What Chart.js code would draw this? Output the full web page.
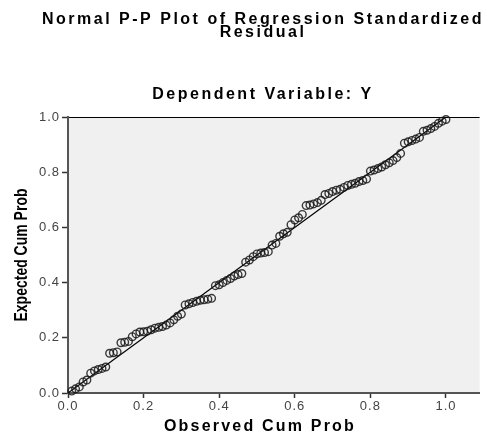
<!DOCTYPE html>
<html lang="en">
<head>
<meta charset="UTF-8">
<title>Normal P-P Plot of Regression Standardized Residual</title>
<script src="https://cdn.jsdelivr.net/npm/chart.js"></script>
<style>
  body { margin: 0; background: #fff; }
  canvas { display: block; }
</style>
</head>
<body>
<canvas id="ppChart" width="485" height="437"></canvas>
<script>
// observed cumulative probability (x) and expected cumulative probability (y)
const observed = [
  0.01, 0.02, 0.03, 0.04, 0.05, 0.06, 0.07, 0.08, 0.09, 0.10,
  0.11, 0.12, 0.13, 0.14, 0.15, 0.16, 0.17, 0.18, 0.19, 0.20,
  0.21, 0.22, 0.23, 0.24, 0.25, 0.26, 0.27, 0.28, 0.29, 0.30,
  0.31, 0.32, 0.33, 0.34, 0.35, 0.36, 0.37, 0.38, 0.39, 0.40,
  0.41, 0.42, 0.43, 0.44, 0.45, 0.46, 0.47, 0.48, 0.49, 0.50,
  0.51, 0.52, 0.53, 0.54, 0.55, 0.56, 0.57, 0.58, 0.59, 0.60,
  0.61, 0.62, 0.63, 0.64, 0.65, 0.66, 0.67, 0.68, 0.69, 0.70,
  0.71, 0.72, 0.73, 0.74, 0.75, 0.76, 0.77, 0.78, 0.79, 0.80,
  0.81, 0.82, 0.83, 0.84, 0.85, 0.86, 0.87, 0.88, 0.89, 0.90,
  0.91, 0.92, 0.93, 0.94, 0.95, 0.96, 0.97, 0.98, 0.99, 1.00
];
const expected = [
  0.007, 0.015, 0.022, 0.040, 0.047, 0.072, 0.080, 0.085, 0.089, 0.094,
  0.144, 0.146, 0.149, 0.182, 0.184, 0.187, 0.204, 0.214, 0.221, 0.222,
  0.224, 0.229, 0.235, 0.238, 0.241, 0.246, 0.254, 0.265, 0.278, 0.286,
  0.319, 0.323, 0.328, 0.332, 0.336, 0.338, 0.340, 0.343, 0.389, 0.392,
  0.400, 0.408, 0.415, 0.424, 0.429, 0.433, 0.474, 0.482, 0.494, 0.504,
  0.507, 0.509, 0.512, 0.536, 0.542, 0.568, 0.577, 0.582, 0.610, 0.627,
  0.635, 0.647, 0.679, 0.681, 0.685, 0.690, 0.698, 0.719, 0.723, 0.730,
  0.735, 0.738, 0.745, 0.752, 0.756, 0.760, 0.766, 0.770, 0.775, 0.804,
  0.808, 0.813, 0.819, 0.827, 0.834, 0.842, 0.853, 0.868, 0.905, 0.910,
  0.915, 0.920, 0.926, 0.948, 0.952, 0.958, 0.966, 0.977, 0.985, 0.991
];
const refLine = [0, 1];
const tickValues = [0, 0.2, 0.4, 0.6, 0.8, 1.0];

const titleLines = ['Normal P-P Plot of Regression Standardized', 'Residual'];
const subTitle = 'Dependent Variable: Y';
const xTitle = 'Observed Cum Prob';
const yTitle = 'Expected Cum Prob';

const points = observed.map((x, i) => ({ x: x, y: expected[i] }));

const frame = {
  id: 'frame',
  beforeDraw(chart) {
    const { ctx, chartArea: a } = chart;
    ctx.save();
    ctx.fillStyle = '#f0f0f0';
    ctx.fillRect(a.left, a.top, a.right - a.left, a.bottom - a.top);
    ctx.strokeStyle = '#000';
    ctx.lineWidth = 1;
    ctx.beginPath();
    ctx.moveTo(a.left, a.top + 0.5);
    ctx.lineTo(a.right, a.top + 0.5);
    ctx.stroke();
    ctx.restore();
    // slightly spaced tick labels like the SPSS output
    ctx.letterSpacing = '1px';
  },
  afterDraw(chart) {
    const ctx = chart.ctx;
    ctx.letterSpacing = '0px';
    ctx.save();
    ctx.fillStyle = '#000';
    ctx.textAlign = 'center';
    ctx.textBaseline = 'middle';
    ctx.font = 'bold 16px Arial';
    ctx.letterSpacing = '2.5px';
    ctx.fillText(titleLines[0], 263, 20);
    ctx.fillText(titleLines[1], 263, 33);
    ctx.fillText(subTitle, 263, 95);
    ctx.letterSpacing = '2.2px';
    ctx.fillText(xTitle, 260, 427);
    ctx.letterSpacing = '0px';
    ctx.font = 'bold 14px Arial';
    ctx.translate(22, 255);
    ctx.rotate(-Math.PI / 2);
    ctx.scale(1, 1.25);
    ctx.fillText(yTitle, 0, 0);
    ctx.restore();
  }
};

const tickFont = { family: 'Arial', size: 13 };

new Chart(document.getElementById('ppChart'), {
  type: 'scatter',
  data: {
    datasets: [{
      data: points,
      pointStyle: 'circle',
      pointRadius: 3.8,
      pointBorderWidth: 1.4,
      pointBorderColor: 'rgba(25,25,25,0.85)',
      pointBackgroundColor: 'rgba(0,0,0,0)',
      clip: false
    }, {
      data: refLine.map(v => ({ x: v, y: v })),
      showLine: true,
      borderColor: '#000',
      borderWidth: 1.2,
      pointRadius: 0
    }]
  },
  options: {
    responsive: false,
    animation: false,
    layout: { padding: { top: 117, left: 0, right: 0, bottom: 0 } },
    plugins: {
      legend: { display: false },
      tooltip: { enabled: false }
    },
    scales: {
      x: {
        type: 'linear',
        min: 0,
        max: 1.089,
        grid: { display: true, drawOnChartArea: false, drawTicks: true, tickLength: 5, tickColor: '#333', tickWidth: 1.5 },
        border: { display: true, color: '#555', width: 2 },
        ticks: { padding: 1, color: '#444', font: tickFont, callback: v => v.toFixed(1) },
        afterBuildTicks: s => { s.ticks = tickValues.map(v => ({ value: v })); },
        afterFit: s => { s.height = 44; }
      },
      y: {
        type: 'linear',
        min: 0,
        max: 1,
        grid: { display: true, drawOnChartArea: false, drawTicks: true, tickLength: 6, tickColor: '#333', tickWidth: 1.5 },
        border: { display: true, color: '#555', width: 2 },
        ticks: { padding: 2, color: '#444', font: tickFont, callback: v => v.toFixed(1) },
        afterBuildTicks: s => { s.ticks = tickValues.map(v => ({ value: v })); },
        afterFit: s => { s.width = 68; }
      }
    }
  },
  plugins: [frame]
});
</script>
</body>
</html>
